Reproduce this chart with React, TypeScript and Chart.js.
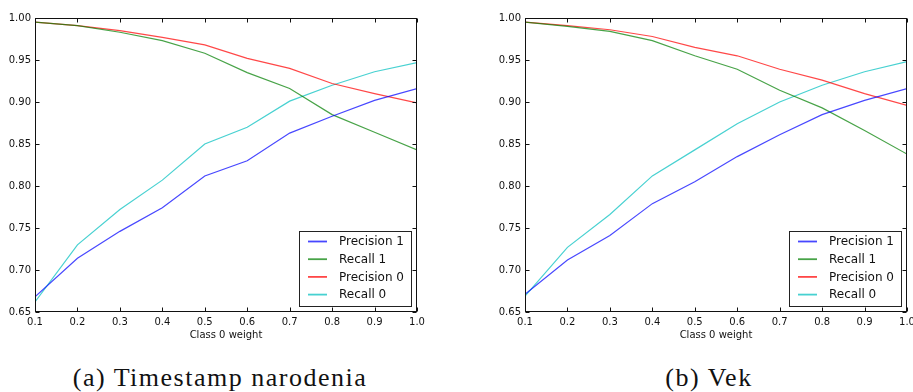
import React, { useEffect, useRef } from "react";
import { Chart, registerables } from "chart.js";

Chart.register(...registerables);

const weights = [0.1, 0.2, 0.3, 0.4, 0.5, 0.6, 0.7, 0.8, 0.9, 1.0];
const seriesNames = ["Precision 1", "Recall 1", "Precision 0", "Recall 0"];
const lineColors = [
  "rgba(0,0,255,0.72)",
  "rgba(0,128,0,0.72)",
  "rgba(255,0,0,0.72)",
  "rgba(0,191,191,0.72)",
];

// (a) Timestamp narodenia
const leftPrecision1 = [0.668, 0.714, 0.746, 0.774, 0.812, 0.83, 0.863, 0.883, 0.902, 0.916];
const leftRecall1 = [0.995, 0.991, 0.983, 0.973, 0.958, 0.935, 0.916, 0.885, 0.864, 0.843];
const leftPrecision0 = [0.995, 0.991, 0.985, 0.977, 0.968, 0.952, 0.94, 0.922, 0.91, 0.899];
const leftRecall0 = [0.662, 0.73, 0.772, 0.807, 0.85, 0.87, 0.901, 0.92, 0.936, 0.947];

// (b) Vek
const rightPrecision1 = [0.671, 0.712, 0.741, 0.779, 0.805, 0.835, 0.861, 0.885, 0.902, 0.916];
const rightRecall1 = [0.995, 0.99, 0.984, 0.973, 0.955, 0.939, 0.914, 0.893, 0.866, 0.838];
const rightPrecision0 = [0.995, 0.991, 0.986, 0.978, 0.965, 0.955, 0.939, 0.926, 0.91, 0.896];
const rightRecall0 = [0.669, 0.727, 0.766, 0.812, 0.843, 0.874, 0.9, 0.92, 0.936, 0.948];

const xTitle = "Class 0 weight";
const captionLeft = "(a) Timestamp narodenia";
const captionRight = "(b) Vek";

const FONT = "DejaVu Sans";

const framePlugin = {
  id: "frameLegend",
  afterDatasetsDraw(chart: any) {
    const ctx = chart.ctx;
    const { left, right, top, bottom } = chart.chartArea;
    const xs = chart.scales.x;
    const ys = chart.scales.y;
    ctx.save();
    ctx.strokeStyle = "#111";
    ctx.lineWidth = 1;
    const L = Math.round(left) + 0.5;
    const R = Math.round(right) - 0.5;
    const T = Math.round(top) + 0.5;
    const B = Math.round(bottom) - 0.5;
    ctx.beginPath();
    xs.ticks.forEach((t: any) => {
      const px = Math.round(xs.getPixelForValue(t.value)) + 0.5;
      ctx.moveTo(px, B);
      ctx.lineTo(px, B - 4);
      ctx.moveTo(px, T);
      ctx.lineTo(px, T + 4);
    });
    ys.ticks.forEach((t: any) => {
      const py = Math.round(ys.getPixelForValue(t.value)) + 0.5;
      ctx.moveTo(L, py);
      ctx.lineTo(L + 4, py);
      ctx.moveTo(R, py);
      ctx.lineTo(R - 4, py);
    });
    ctx.stroke();
    ctx.strokeRect(L, T, R - L, B - T);

    // legend box
    const bw = 112;
    const bh = 75;
    const bx = Math.round(right) - 6 - bw;
    const by = Math.round(bottom) - 6 - bh;
    ctx.fillStyle = "#fff";
    ctx.fillRect(bx, by, bw, bh);
    ctx.strokeStyle = "#222";
    ctx.strokeRect(bx + 0.5, by + 0.5, bw, bh);
    ctx.font = `12px "${FONT}"`;
    ctx.textBaseline = "middle";
    ctx.textAlign = "left";
    chart.data.datasets.forEach((ds: any, i: number) => {
      const y = by + 10.5 + i * 17.7;
      ctx.strokeStyle = ds.borderColor;
      ctx.lineWidth = 1.8;
      ctx.beginPath();
      ctx.moveTo(bx + 9, y);
      ctx.lineTo(bx + 28, y);
      ctx.stroke();
      ctx.fillStyle = "#111";
      ctx.fillText(ds.label, bx + 40, y + 0.5);
    });
    ctx.restore();
  },
};

function LinePanel({ series, width, rightPad }: { series: number[][]; width: number; rightPad: number }) {
  const ref = useRef<HTMLCanvasElement | null>(null);
  useEffect(() => {
    if (!ref.current) return;
    const chart = new Chart(ref.current, {
      type: "line",
      data: {
        datasets: series.map((s, i) => ({
          label: seriesNames[i],
          data: weights.map((w, j) => ({ x: w, y: s[j] })),
          borderColor: lineColors[i],
          backgroundColor: lineColors[i],
          borderWidth: 1.2,
          pointRadius: 0,
          fill: false,
          tension: 0,
        })),
      },
      options: {
        responsive: false,
        maintainAspectRatio: false,
        animation: false,
        devicePixelRatio: 1,
        layout: { padding: { top: 18, right: rightPad, bottom: 0, left: 0 } },
        plugins: { legend: { display: false }, tooltip: { enabled: false } },
        scales: {
          x: {
            type: "linear",
            min: 0.1,
            max: 1.0,
            grid: { display: false, drawTicks: false },
            border: { display: false },
            ticks: {
              stepSize: 0.1,
              autoSkip: false,
              maxRotation: 0,
              padding: 4,
              color: "#111",
              font: { family: FONT, size: 10 },
              callback: (v: any) => Number(v).toFixed(1),
            },
            title: {
              display: true,
              text: xTitle,
              color: "#111",
              font: { family: FONT, size: 10 },
              padding: { top: 0, bottom: 4 },
            },
            afterFit: (s: any) => {
              s.height = 33;
            },
          },
          y: {
            type: "linear",
            min: 0.65,
            max: 1.0,
            grid: { display: false, drawTicks: false },
            border: { display: false },
            ticks: {
              stepSize: 0.05,
              padding: 4,
              color: "#111",
              font: { family: FONT, size: 10 },
              callback: (v: any) => Number(v).toFixed(2),
            },
            afterFit: (s: any) => {
              s.width = 35;
            },
          },
        },
      } as any,
      plugins: [framePlugin],
    });
    return () => chart.destroy();
  }, []);
  return <canvas ref={ref} width={width} height={345} style={{ display: "block" }} />;
}

export default function App() {
  const captionStyle: React.CSSProperties = {
    position: "absolute",
    top: 363,
    width: 400,
    textAlign: "center",
    fontFamily: '"Liberation Serif", serif',
    fontSize: 26,
    lineHeight: "30px",
    letterSpacing: 1.5,
    color: "#111",
    whiteSpace: "nowrap",
  };
  return (
    <div
      style={{
        position: "absolute",
        left: 0,
        top: 0,
        width: 913,
        height: 392,
        overflow: "hidden",
        background: "#fff",
      }}
    >
      <div style={{ position: "absolute", left: 0, top: 0 }}>
        <LinePanel series={[leftPrecision1, leftRecall1, leftPrecision0, leftRecall0]} width={460} rightPad={43} />
      </div>
      <div style={{ position: "absolute", left: 490, top: 0 }}>
        <LinePanel series={[rightPrecision1, rightRecall1, rightPrecision0, rightRecall0]} width={440} rightPad={23} />
      </div>
      <div style={{ ...captionStyle, left: 220 - 200 }}>{captionLeft}</div>
      <div style={{ ...captionStyle, left: 709 - 200 }}>{captionRight}</div>
    </div>
  );
}
